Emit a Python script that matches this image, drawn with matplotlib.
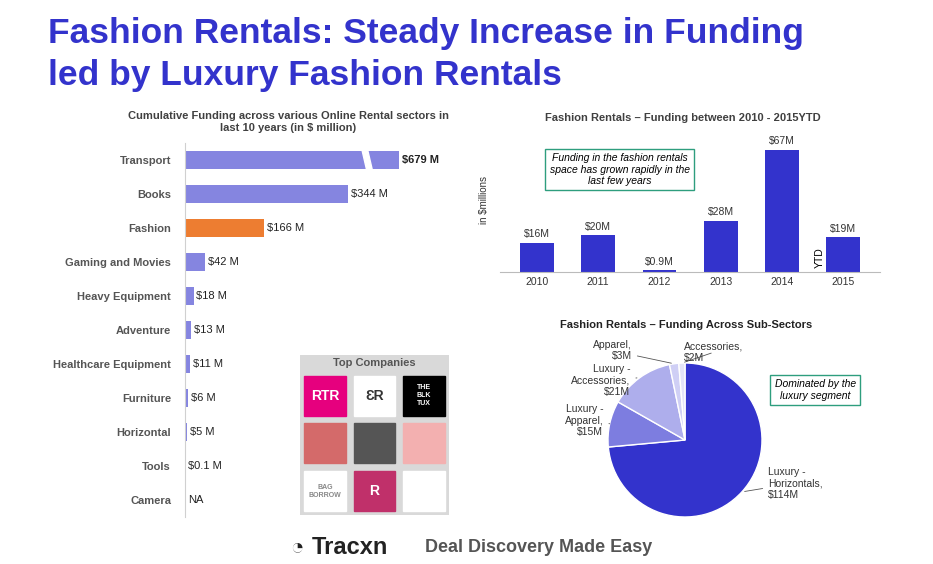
import matplotlib
matplotlib.use("Agg")
import matplotlib.pyplot as plt
from matplotlib.patches import Rectangle, Polygon
import numpy as np

W, H = 933, 564
sectors = ["Transport", "Books", "Fashion", "Gaming and Movies", "Heavy Equipment", "Adventure",
           "Healthcare Equipment", "Furniture", "Horizontal", "Tools", "Camera"]
sector_vals = [679, 344, 166, 42, 18, 13, 11, 6, 5, 0.1, 0]
sector_labels = ["$679 M", "$344 M", "$166 M", "$42 M", "$18 M", "$13 M", "$11 M", "$6 M", "$5 M", "$0.1 M", "NA"]
years = ["2010", "2011", "2012", "2013", "2014", "2015"]
year_vals = [16, 20, 0.9, 28, 67, 19]
year_labels = ["$16M", "$20M", "$0.9M", "$28M", "$67M", "$19M"]
sub_names = ["Luxury -\nHorizontals,\n$114M", "Luxury -\nApparel,\n$15M", "Luxury -\nAccessories,\n$21M",
             "Apparel,\n$3M", "Accessories,\n$2M"]
sub_vals = [114, 15, 21, 3, 2]

BLUE = "#3333cc"
LBAR = "#8585e0"
ORANGE = "#ed7d31"
plt.rcParams['font.family'] = ['Liberation Sans', 'DejaVu Sans']

fig = plt.figure(figsize=(W/100, H/100), dpi=100)
def ax_px(x0, y0, x1, y1):
    return fig.add_axes([x0/W, 1-y1/H, (x1-x0)/W, (y1-y0)/H])
def ftxt(x, y, s, **kw):
    fig.text(x/W, 1-y/H, s, **kw)

ftxt(48, 33, "Fashion Rentals: Steady Increase in Funding", fontsize=25.5, fontweight='bold', color=BLUE, va='center')
ftxt(48, 75, "led by Luxury Fashion Rentals", fontsize=25.5, fontweight='bold', color=BLUE, va='center')

# Left bar chart
ftxt(288, 122, "Cumulative Funding across various Online Rental sectors in\nlast 10 years (in $ million)",
     ha='center', va='center', fontsize=8, fontweight='bold', color='#404040')
ax = ax_px(185, 143, 470, 517)
cap = 450
y = list(range(len(sectors)))
disp = [min(v, cap) for v in sector_vals]
cols = [ORANGE if s == "Fashion" else LBAR for s in sectors]
ax.barh(y, disp, height=0.55, color=cols)
for i, (v, lab) in enumerate(zip(disp, sector_labels)):
    ax.text(v + 6, i, lab, va='center', fontsize=8, color='#222222',
            fontweight='bold' if i == 0 else 'normal')
ax.add_patch(Polygon([[370, -0.45], [382, -0.45], [397, 0.45], [385, 0.45]], color='white', zorder=5))
ax.set_yticks(y)
ax.set_yticklabels(sectors, fontsize=8, color='#555555', fontweight='bold')
ax.tick_params(length=0, pad=10)
ax.set_xlim(0, 600)
ax.set_ylim(len(sectors)-0.5, -0.5)
ax.set_xticks([])
for s in ax.spines.values():
    s.set_visible(False)
ax.spines['left'].set_visible(True)
ax.spines['left'].set_color('#d0d0d0')

# Top companies panel
ax2 = ax_px(300, 355, 449, 515)
ax2.set_xlim(0, 3); ax2.set_ylim(0, 3.35)
ax2.axis('off')
ax2.add_patch(Rectangle((0, 0), 3, 3.35, color='#d9d9d9'))
ax2.text(1.5, 3.18, "Top Companies", ha='center', va='center', fontsize=8, fontweight='bold', color='#555555')
logos = [("RTR", "#e6007e", "white"), ("ƐR", "white", "#333"), ("THE\nBLK\nTUX", "black", "white"),
         ("", "#d46a6a", "white"), ("", "#555555", "white"), ("", "#f3b0b0", "white"),
         ("BAG\nBORROW", "white", "#888"), ("R", "#c0306a", "white"), ("", "white", "#333")]
for k, (t, bg, fg) in enumerate(logos):
    r, c = divmod(k, 3)
    x0 = c*1.0 + 0.08; y0 = 2.0 - r*1.0 + 0.08
    ax2.add_patch(Rectangle((x0, y0), 0.84, 0.84, color=bg))
    ax2.text(x0+0.42, y0+0.42, t, ha='center', va='center', color=fg,
             fontsize=10 if len(t) <= 3 else 5, fontweight='bold')

# Right top bar chart
ftxt(683, 118, "Fashion Rentals \u2013 Funding between 2010 - 2015YTD", ha='center', va='center',
     fontsize=8, fontweight='bold', color='#404040')
ax3 = ax_px(500, 135, 880, 272)
x = range(len(years))
ax3.bar(x, year_vals, width=0.55, color=BLUE)
for i, (v, lab) in enumerate(zip(year_vals, year_labels)):
    ax3.text(i, v + 2, lab, ha='center', va='bottom', fontsize=7.5, color='#333')
ax3.text(5 - 0.38, 8, "YTD", rotation=90, fontsize=7.5, ha='center', va='center')
ax3.set_ylim(0, 75)
ax3.set_xlim(-0.6, 5.6)
ax3.set_xticks(list(x)); ax3.set_xticklabels(years, fontsize=7.5, color='#333')
ax3.set_yticks([])
ax3.tick_params(length=0)
for s in ['top', 'right', 'left']:
    ax3.spines[s].set_visible(False)
ax3.spines['bottom'].set_color('#bbbbbb')
ftxt(484, 200, "in $millions", rotation=90, fontsize=7, ha='center', va='center', color='#333')
ax3.annotate("Funding in the fashion rentals\nspace has grown rapidly in the\nlast few years", xy=(2.2, 52),
             xytext=(1.35, 56), ha='center', va='center', fontsize=7.5, style='italic',
             bbox=dict(boxstyle='square,pad=0.4', fc='white', ec='#2e9e7e'),
             annotation_clip=False)

# Pie
ftxt(686, 325, "Fashion Rentals \u2013 Funding Across Sub-Sectors", ha='center', va='center',
     fontsize=8, fontweight='bold', color='#222')
ax4 = ax_px(608, 363, 762, 517)
pc = [BLUE, "#7d7de0", "#aeaeec", "#cfcff5", "#e3e3f8"]
wedges, _ = ax4.pie(sub_vals, colors=pc, startangle=90, counterclock=False,
                    wedgeprops=dict(edgecolor='white', linewidth=1))
ax4.set_xlim(-1, 1); ax4.set_ylim(-1, 1)
ax4.set_aspect('equal')
lblpos = [(1.08, -0.56, 'left'), (-1.06, 0.25, 'right'), (-0.71, 0.77, 'right'),
          (-0.69, 1.16, 'right'), (-0.01, 1.14, 'left')]
for w, lab, (lx, ly, ha) in zip(wedges, sub_names, lblpos):
    ang = np.deg2rad((w.theta1 + w.theta2) / 2)
    ax4.annotate(lab, xy=(np.cos(ang), np.sin(ang)), xytext=(lx, ly), ha=ha, va='center',
                 fontsize=7.5, color='#333',
                 arrowprops=dict(arrowstyle='-', color='#555', lw=0.6), annotation_clip=False)
ax4.annotate("Dominated by the\nluxury segment", xy=(0.8, 0.35), xytext=(1.69, 0.65),
             ha='center', va='center', fontsize=7.5, style='italic',
             bbox=dict(boxstyle='square,pad=0.4', fc='white', ec='#2e9e7e'), annotation_clip=False)

# Footer
ftxt(290, 548, "\u25D4", fontsize=16, va='center', color='#222')
ftxt(312, 548, "Tracxn", fontsize=17, fontweight='bold', va='center', color='#222')
ftxt(425, 548, "Deal Discovery Made Easy", fontsize=13, fontweight='bold', va='center', color='#555')

fig.savefig("out.png", dpi=100)
